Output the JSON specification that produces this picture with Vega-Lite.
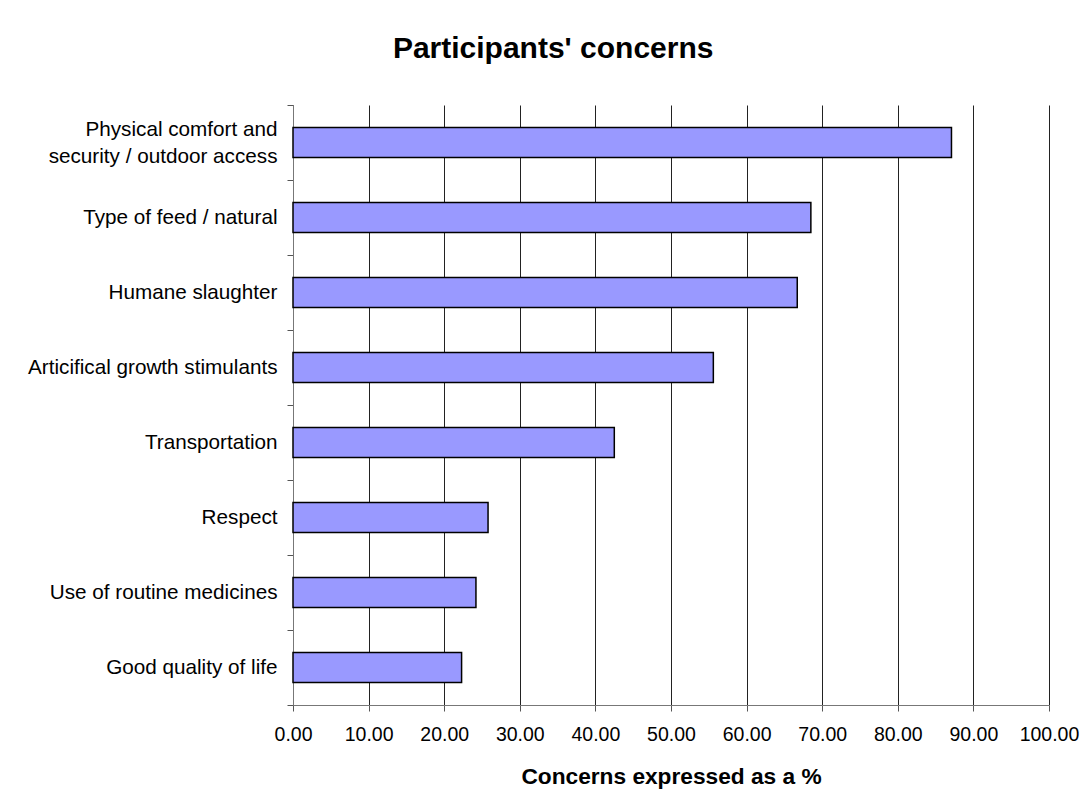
{
  "$schema": "https://vega.github.io/schema/vega-lite/v6.json",
  "width": 756,
  "height": 600,
  "autosize": {"type": "none"},
  "padding": {"left": 293, "top": 105, "right": 40, "bottom": 107},
  "background": "white",
  "title": {
    "text": "Participants' concerns",
    "font": "Liberation Sans",
    "fontSize": 30,
    "fontWeight": "bold",
    "color": "black",
    "anchor": "middle",
    "frame": "bounds",
    "offset": 30
  },
  "data": {
    "values": [
      {"concern": "Physical comfort and security / outdoor access", "pct": 87.1},
      {"concern": "Type of feed / natural", "pct": 68.5},
      {"concern": "Humane slaughter", "pct": 66.7},
      {"concern": "Articifical growth stimulants", "pct": 55.6},
      {"concern": "Transportation", "pct": 42.5},
      {"concern": "Respect", "pct": 25.8},
      {"concern": "Use of routine medicines", "pct": 24.2},
      {"concern": "Good quality of life", "pct": 22.3}
    ]
  },
  "mark": {"type": "bar", "fill": "#9999FF", "stroke": "black", "strokeWidth": 1.5, "height": {"band": 0.4}},
  "encoding": {
    "y": {
      "field": "concern",
      "type": "nominal",
      "sort": null,
      "scale": {"paddingInner": 0, "paddingOuter": 0},
      "axis": {
        "title": null,
        "tickBand": "extent",
        "labelFont": "Liberation Sans",
        "labelFontSize": 20.7,
        "labelColor": "black",
        "labelPadding": 10,
        "labelLimit": 400,
        "labelLineHeight": 27,
        "labelOffset": {"condition": {"test": "datum.value == 'Physical comfort and security / outdoor access'", "value": -13}, "value": 0},
        "labelExpr": "datum.label == 'Physical comfort and security / outdoor access' ? ['Physical comfort and', 'security / outdoor access'] : datum.label",
        "tickSize": 6,
        "tickColor": "#555",
        "domainColor": "#777",
        "grid": false
      }
    },
    "x": {
      "field": "pct",
      "type": "quantitative",
      "scale": {"domain": [0, 100], "nice": false},
      "axis": {
        "title": "Concerns expressed as a %",
        "titleFont": "Liberation Sans",
        "titleFontSize": 22.7,
        "titleFontWeight": "bold",
        "titleColor": "black",
        "titlePadding": 22,
        "values": [0, 10, 20, 30, 40, 50, 60, 70, 80, 90, 100],
        "format": ".2f",
        "labelFont": "Liberation Sans",
        "labelFontSize": 19.5,
        "labelColor": "black",
        "labelPadding": 14,
        "labelFlush": false,
        "labelOverlap": false,
        "tickSize": 6,
        "tickColor": "#555",
        "domainColor": "#777",
        "grid": true,
        "gridColor": "#222",
        "gridWidth": 1
      }
    }
  },
  "config": {"view": {"stroke": null}}
}
